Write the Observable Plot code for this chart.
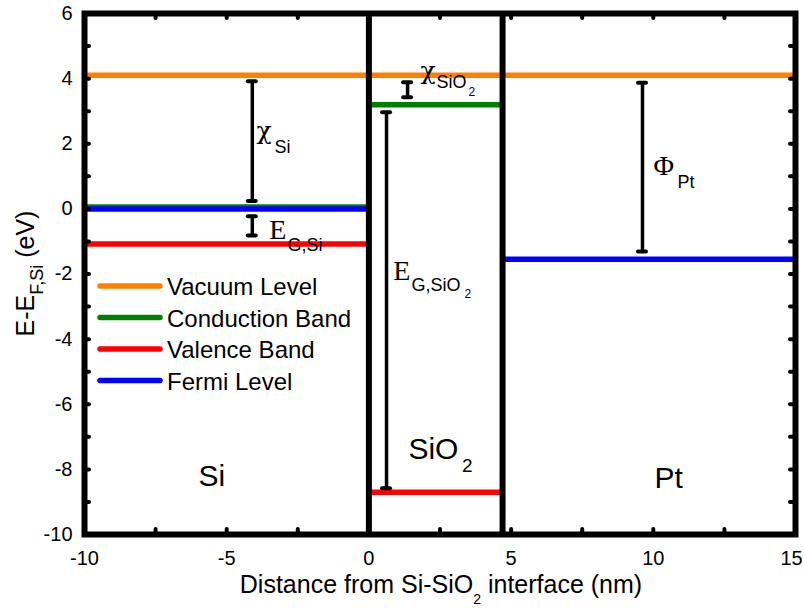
<!DOCTYPE html>
<html>
<head>
<meta charset="utf-8">
<script src="https://cdn.jsdelivr.net/npm/d3@7"></script>
<script src="https://cdn.jsdelivr.net/npm/@observablehq/plot@0.6"></script>
<style>
  body { margin: 0; background: #fff; }
  #chart svg { display: block; }
</style>
</head>
<body>
<div id="chart"></div>
<script>
// Band diagram of a Si / SiO2 / Pt stack, energies relative to the Si Fermi level.
const regions = ["Si", "SiO2", "Pt"];
const regionStart = [-10, 0, 4.7];   // nm
const regionEnd = [0, 4.7, 15];      // nm

const vacuumLevel = [4.1, 4.1, 4.1];      // eV
const conductionBand = [0.06, 3.2, null];
const valenceBand = [-1.08, -8.7, null];
const fermiLevel = [0, null, -1.55];

const seriesNames = ["Vacuum Level", "Conduction Band", "Valence Band", "Fermi Level"];
const seriesColors = ["#ff8000", "#008000", "#ff0000", "#0000ff"];

// Energy differences marked with capped bars
const gapNames = ["chi_Si", "Eg_Si", "chi_SiO2", "Eg_SiO2", "phi_Pt"];
const gapX = [-4.1, -4.1, 1.36, 0.62, 9.62];
const gapTop = [3.92, -0.23, 3.89, 2.97, 3.87];
const gapBottom = [0.24, -0.82, 3.43, -8.58, -1.31];

// Gap labels: symbol, subscript, second-level subscript
const labelSymbol = ["χ", "E", "χ", "E", "Φ"];
const labelSymbolX = [-3.95, -3.5, 1.81, 0.86, 10.01];
const labelSymbolY = [2.16, -0.91, 4.0, -2.19, 1.03];
const labelSub = ["Si", "G,Si", "SiO", "G,SiO", "Pt"];
const labelSubX = [-3.32, -2.86, 2.38, 1.5, 10.85];
const labelSubY = [1.73, -1.28, 3.72, -2.51, 0.63];
const labelSub2 = ["", "", "2", "2", ""];
const labelSub2X = [null, null, 3.5, 3.36, null];
const labelSub2Y = [null, null, 3.48, -2.75, null];

// Region names
const regionLabel = ["Si", "SiO", "Pt"];
const regionLabelX = [-5.99, 1.39, 10.04];
const regionLabelY = [-8.52, -7.67, -8.56];

const xTickValues = [-10, -5, 0, 5, 10];
const xLastTick = [15];
const yTickValues = [-10, -8, -6, -4, -2, 0, 2, 4, 6];
const xMinorTicks = d3.range(-10, 15.01, 2.5);
const yMinorTicks = d3.range(-10, 6.01, 1);

// ---- derived tables ----
const levelRows = [];
[vacuumLevel, conductionBand, valenceBand, fermiLevel].forEach((vals, s) => {
  vals.forEach((v, r) => {
    if (v != null) levelRows.push({series: seriesNames[s], region: regions[r], x1: regionStart[r], x2: regionEnd[r], y: v});
  });
});

const gaps = gapNames.map((name, i) => ({name, x: gapX[i], top: gapTop[i], bottom: gapBottom[i]}));
const capHalf = 0.14;
const gapCaps = gaps.flatMap(g => [
  {x1: g.x - capHalf, x2: g.x + capHalf, y: g.top},
  {x1: g.x - capHalf, x2: g.x + capHalf, y: g.bottom}
]);

const symbols = labelSymbol.map((t, i) => ({t, x: labelSymbolX[i], y: labelSymbolY[i]}));
const chis = symbols.filter(d => d.t === "χ");
const others = symbols.filter(d => d.t !== "χ");
const subs = labelSub.map((t, i) => ({t, x: labelSubX[i], y: labelSubY[i]}));
const subs2 = labelSub2.map((t, i) => ({t, x: labelSub2X[i], y: labelSub2Y[i]})).filter(d => d.t);
const regionTexts = regionLabel.map((t, i) => ({t, x: regionLabelX[i], y: regionLabelY[i]}));

const W = 803, H = 615;
const mL = 84, mR = 8, mT = 13, mB = 81;
const innerW = W - mL - mR, innerH = H - mT - mB;
const tickLen = 5;
const sans = "'Liberation Sans', Arial, Helvetica, sans-serif";
const serif = "'Liberation Serif', 'Times New Roman', serif";
const greek = "'DejaVu Serif', serif";

const svg = Plot.plot({
  width: W,
  height: H,
  marginLeft: mL,
  marginRight: mR,
  marginTop: mT,
  marginBottom: mB,
  x: {domain: [-10, 15]},
  y: {domain: [-10, 6]},
  color: {domain: seriesNames, range: seriesColors},
  style: {fontFamily: sans, fontSize: "20px", color: "#000", background: "#fff", overflow: "visible"},
  marks: [
    // band levels
    Plot.ruleY(levelRows, {x1: "x1", x2: "x2", y: "y", stroke: "series", strokeWidth: 5.5}),
    // material interfaces
    Plot.ruleX(regionStart.slice(1), {stroke: "#000", strokeWidth: 6}),
    // capped bars for the energy differences
    Plot.ruleX(gaps, {x: "x", y1: "top", y2: "bottom", stroke: "#000", strokeWidth: 3.5}),
    Plot.ruleY(gapCaps, {x1: "x1", x2: "x2", y: "y", stroke: "#000", strokeWidth: 4, strokeLinecap: "round"}),
    // gap labels
    Plot.text(chis, {x: "x", y: "y", text: "t", textAnchor: "start", lineAnchor: "bottom", fontFamily: greek, fontSize: 25, fill: "#000"}),
    Plot.text(others, {x: "x", y: "y", text: "t", textAnchor: "start", lineAnchor: "bottom", fontFamily: serif, fontSize: 28, fill: "#000"}),
    Plot.text(subs, {x: "x", y: "y", text: "t", textAnchor: "start", lineAnchor: "bottom", fontFamily: sans, fontSize: 18, fill: "#000"}),
    Plot.text(subs2, {x: "x", y: "y", text: "t", textAnchor: "start", lineAnchor: "bottom", fontFamily: sans, fontSize: 12, fill: "#000"}),
    // region names
    Plot.text(regionTexts, {x: "x", y: "y", text: "t", textAnchor: "start", lineAnchor: "bottom", fontFamily: sans, fontSize: 30, fill: "#000"}),
    // inward minor ticks on all four sides
    Plot.tickY(yMinorTicks, {y: d => d, insetRight: innerW - tickLen, stroke: "#000", strokeWidth: 4, strokeLinecap: "round"}),
    Plot.tickY(yMinorTicks, {y: d => d, insetLeft: innerW - tickLen, stroke: "#000", strokeWidth: 4, strokeLinecap: "round"}),
    Plot.tickX(xMinorTicks, {x: d => d, insetTop: innerH - tickLen, stroke: "#000", strokeWidth: 4, strokeLinecap: "round"}),
    Plot.tickX(xMinorTicks, {x: d => d, insetBottom: innerH - tickLen, stroke: "#000", strokeWidth: 4, strokeLinecap: "round"}),
    Plot.frame({stroke: "#000", strokeWidth: 6}),
    Plot.axisX({ticks: xTickValues, tickSize: 0, tickPadding: 16, tickFormat: d => String(d), label: null, fontSize: 20}),
    Plot.axisX({ticks: xLastTick, tickSize: 0, tickPadding: 16, tickFormat: d => String(d), label: null, fontSize: 20, dx: -4}),
    Plot.axisY({ticks: yTickValues, tickSize: 0, tickPadding: 12, tickFormat: d => String(d), label: null, fontSize: 20})
  ]
});

document.getElementById("chart").appendChild(svg);

const root = d3.select(svg);

// subscript 2 of the SiO2 region name
root.append("text")
  .attr("x", 462).attr("y", 472)
  .attr("text-anchor", "start")
  .attr("font-family", sans).attr("font-size", 19).attr("fill", "#000")
  .text("2");

// axis titles
const xTitle = root.append("text")
  .attr("x", 441).attr("y", 593)
  .attr("text-anchor", "middle")
  .attr("font-family", sans).attr("font-size", 25).attr("fill", "#000");
xTitle.append("tspan").text("Distance from Si-SiO");
xTitle.append("tspan").attr("font-size", 14).attr("dy", 11).text("2");
xTitle.append("tspan").attr("dy", -11).text(" interface (nm)");

const yTitle = root.append("text")
  .attr("transform", `translate(34,${(mT + H - mB) / 2}) rotate(-90)`)
  .attr("text-anchor", "middle")
  .attr("font-family", sans).attr("font-size", 25).attr("fill", "#000");
yTitle.append("tspan").text("E-E");
yTitle.append("tspan").attr("font-size", 18).attr("dy", 9).text("F,Si");
yTitle.append("tspan").attr("dy", -9).text(" (eV)");

// legend
const legend = root.append("g")
  .attr("font-family", sans).attr("font-size", 24).attr("fill", "#000").attr("text-anchor", "start");
seriesNames.forEach((name, i) => {
  const yy = 286 + i * 31.5;
  legend.append("line")
    .attr("x1", 100).attr("x2", 160).attr("y1", yy).attr("y2", yy)
    .attr("stroke", seriesColors[i]).attr("stroke-width", 5.5).attr("stroke-linecap", "round");
  legend.append("text").attr("x", 167).attr("y", yy + 9).text(name);
});
</script>
</body>
</html>
